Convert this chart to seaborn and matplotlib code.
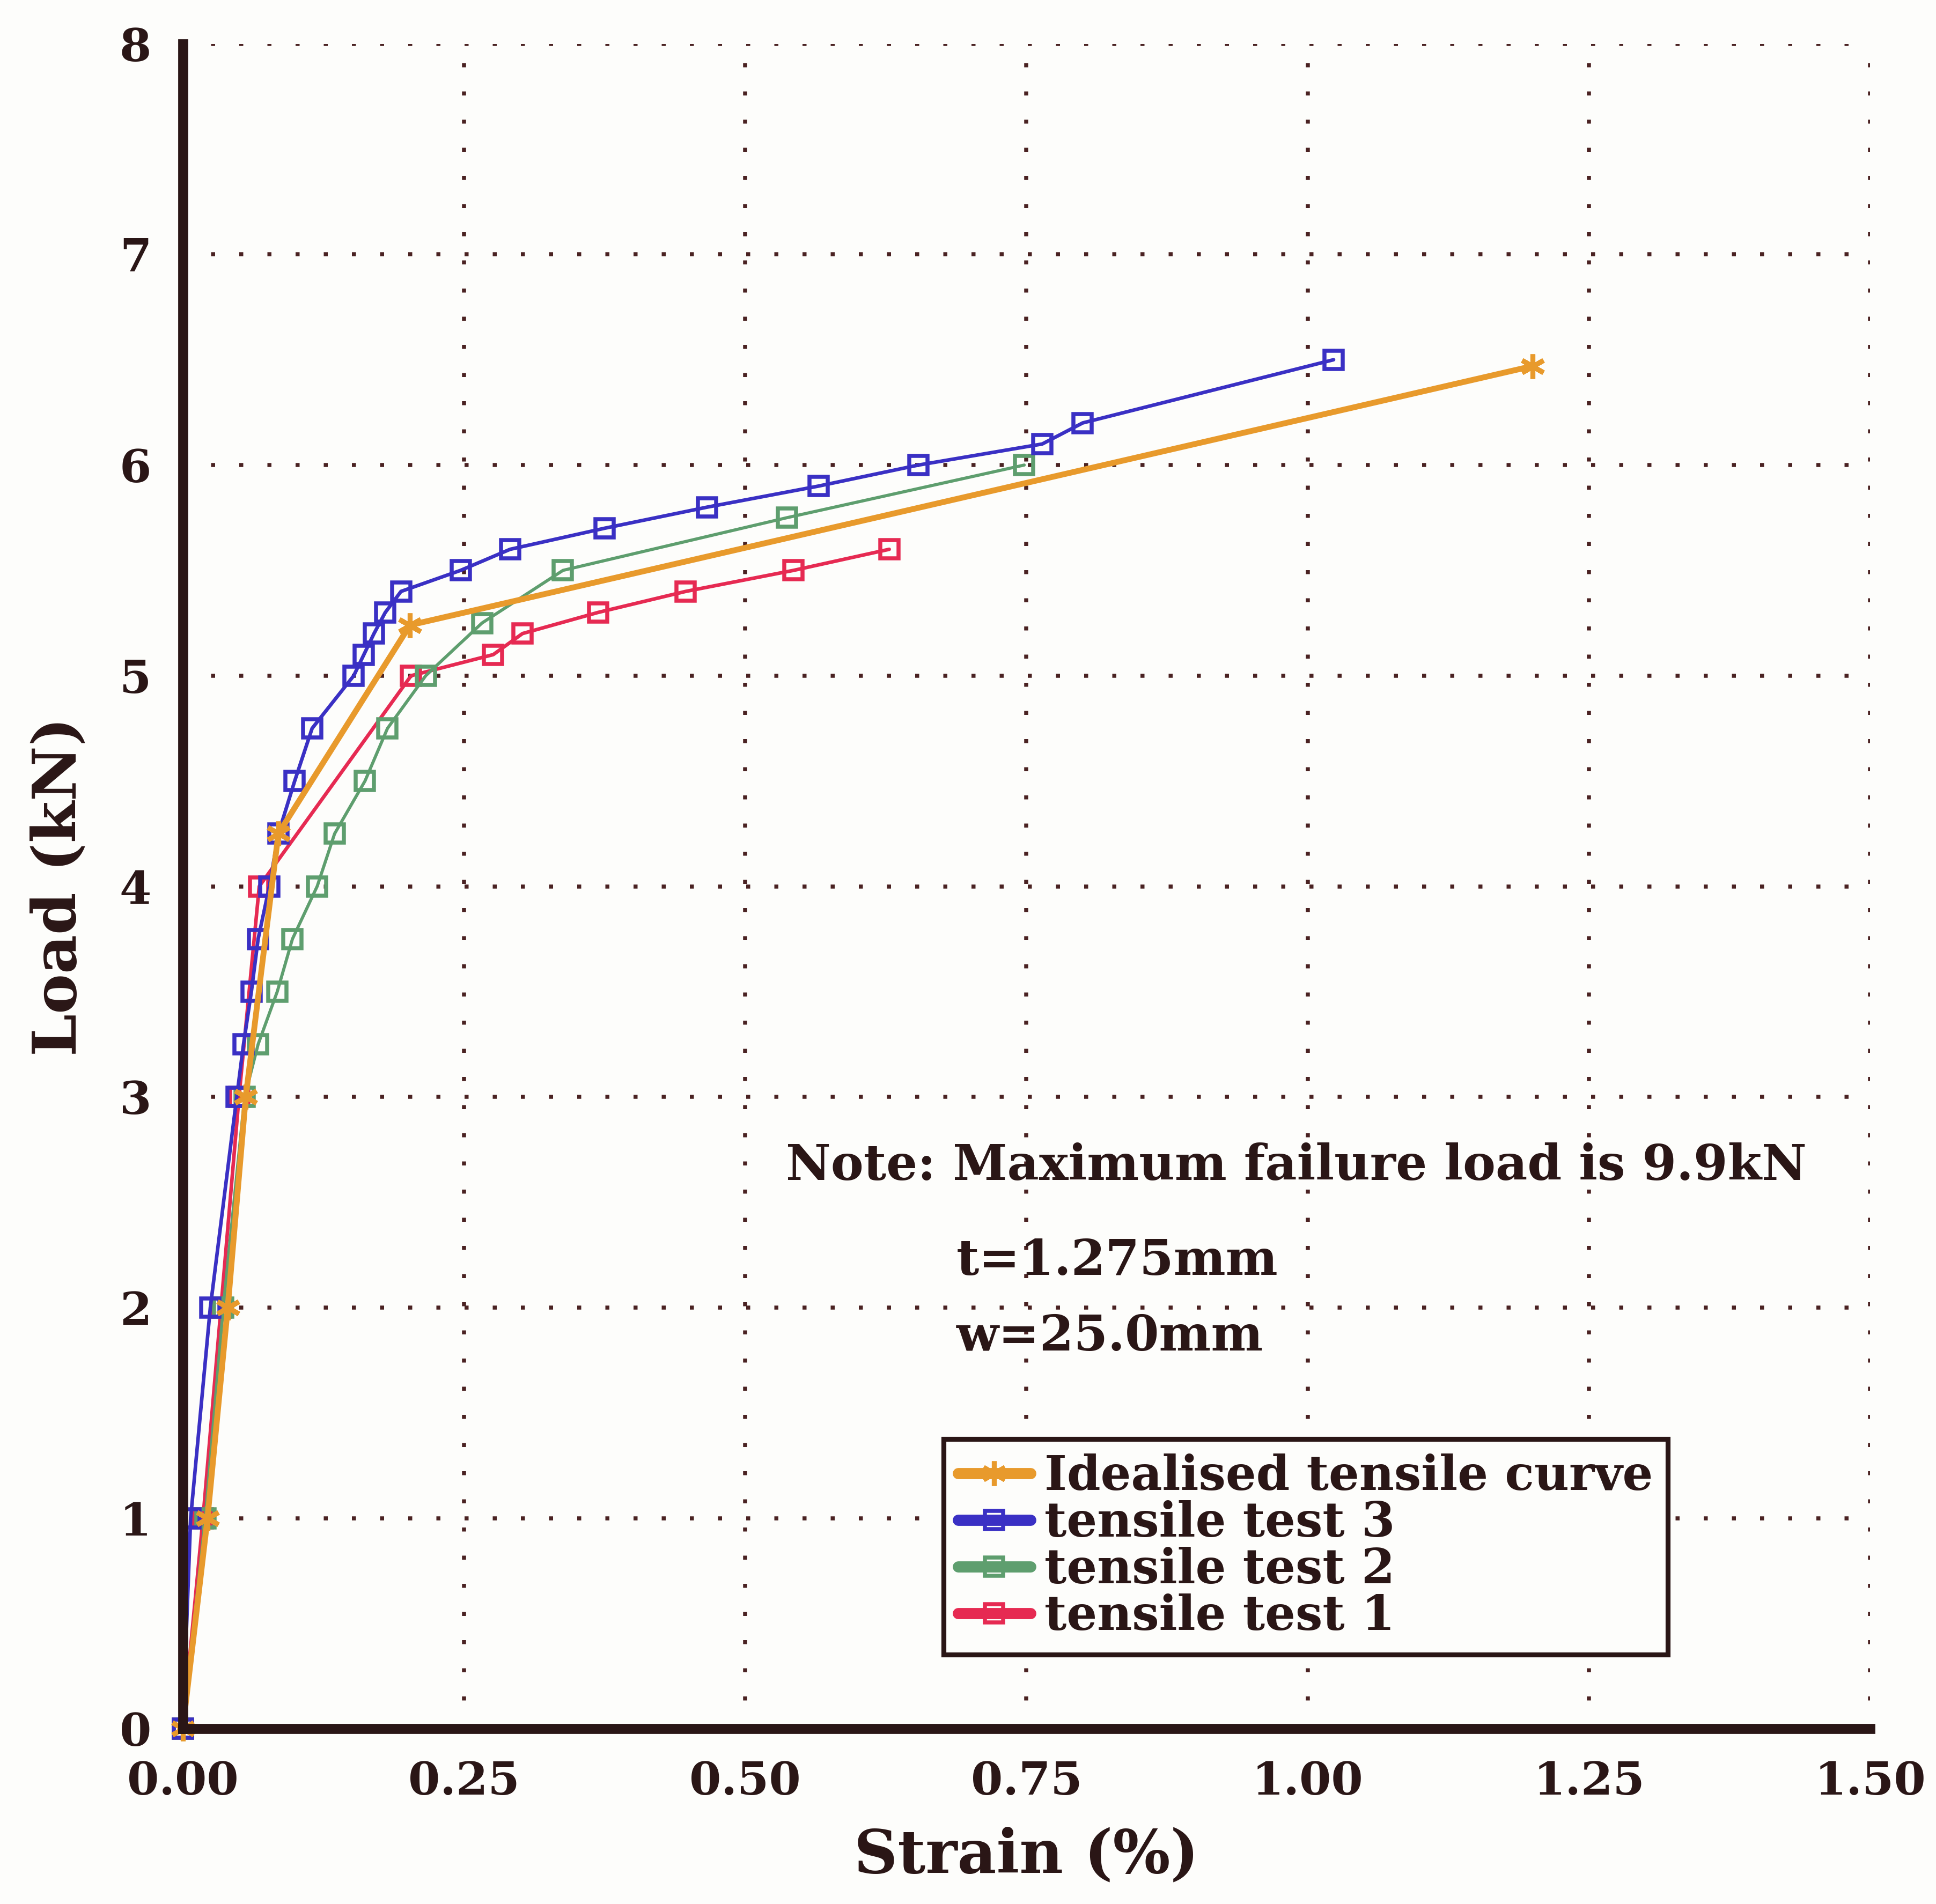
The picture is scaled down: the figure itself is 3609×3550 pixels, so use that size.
import matplotlib
matplotlib.use("Agg")
import matplotlib.pyplot as plt
import seaborn as sns
import pandas as pd

# ---------------- data ----------------
ideal_x = [0.0, 0.022, 0.040, 0.056, 0.085, 0.202, 1.200]
ideal_y = [0.0, 1.0, 2.0, 3.0, 4.25, 5.24, 6.47]

test3_x = [0.0, 0.007, 0.0245, 0.048, 0.054, 0.061, 0.067, 0.077, 0.085, 0.0995,
           0.115, 0.152, 0.161, 0.170, 0.180, 0.194, 0.247, 0.291, 0.375, 0.466,
           0.565, 0.654, 0.764, 0.800, 1.023]
test3_y = [0.0, 1.0, 2.0, 3.0, 3.25, 3.5, 3.75, 4.0, 4.25, 4.5,
           4.75, 5.0, 5.1, 5.2, 5.3, 5.4, 5.5, 5.6, 5.7, 5.8,
           5.9, 6.0, 6.1, 6.2, 6.5]

test2_x = [0.0, 0.020, 0.036, 0.055, 0.067, 0.084, 0.0975, 0.1195, 0.135, 0.162,
           0.182, 0.216, 0.266, 0.338, 0.537, 0.748]
test2_y = [0.0, 1.0, 2.0, 3.0, 3.25, 3.5, 3.75, 4.0, 4.25, 4.5,
           4.75, 5.0, 5.25, 5.5, 5.75, 6.0]

test1_x = [0.0, 0.018, 0.034, 0.050, 0.068, 0.203, 0.276, 0.302, 0.369, 0.447, 0.543, 0.628]
test1_y = [0.0, 1.0, 2.0, 3.0, 4.0, 5.0, 5.1, 5.2, 5.3, 5.4, 5.5, 5.6]

x_ticks = [0.0, 0.25, 0.5, 0.75, 1.0, 1.25, 1.5]
x_tick_labels = ["0.00", "0.25", "0.50", "0.75", "1.00", "1.25", "1.50"]
y_ticks = [0, 1, 2, 3, 4, 5, 6, 7, 8]

series_names = ["Idealised tensile curve", "tensile test 3", "tensile test 2", "tensile test 1"]
note_text = "Note: Maximum failure load is 9.9kN"
t_text = "t=1.275mm"
w_text = "w=25.0mm"

# ---------------- style ----------------
sns.set_theme(style="white")
FONT = ["DejaVu Serif", "Liberation Serif"]
plt.rcParams["font.family"] = FONT
plt.rcParams["font.weight"] = "bold"

ink = "#2a1616"
grid_col = "#4a2222"
c_ideal = "#e89a2c"
c_t3 = "#3a30c4"
c_t2 = "#5e9e6e"
c_t1 = "#e62a52"

fig = plt.figure(figsize=(3609 / 300, 3550 / 300), dpi=300)
fig.patch.set_facecolor("#fdfdfb")
ax = fig.add_axes([0.0944, 0.092, 0.8716, 0.885])
ax.set_facecolor("#fdfdfb")

common = dict(estimator=None, sort=False, ax=ax, clip_on=False)

sns.lineplot(x=test1_x, y=test1_y, color=c_t1, lw=1.6, marker="s", ms=8,
             mfc="none", mec=c_t1, mew=1.8, label=series_names[3], zorder=3, **common)
sns.lineplot(x=test2_x, y=test2_y, color=c_t2, lw=1.4, marker="s", ms=8,
             mfc="none", mec=c_t2, mew=1.8, label=series_names[2], zorder=3, **common)
sns.lineplot(x=test3_x, y=test3_y, color=c_t3, lw=1.6, marker="s", ms=8,
             mfc="none", mec=c_t3, mew=1.8, label=series_names[1], zorder=4, **common)
sns.lineplot(x=ideal_x, y=ideal_y, color=c_ideal, lw=2.6, marker=(6, 2, 0), ms=11,
             mec=c_ideal, mew=2.2, label=series_names[0], zorder=5, **common)

ax.set_xlim(0, 1.5)
ax.set_ylim(0, 8)
ax.set_xticks(x_ticks)
ax.set_xticklabels(x_tick_labels)
ax.set_yticks(y_ticks)

ax.grid(True, color=grid_col, linestyle=(0, (1, 6)), lw=1.8)
ax.set_axisbelow(True)

for s in ["top", "right"]:
    ax.spines[s].set_visible(False)
for s in ["left", "bottom"]:
    ax.spines[s].set_color(ink)
    ax.spines[s].set_linewidth(4.5)
    ax.spines[s].set_zorder(6)

ax.tick_params(axis="both", length=0, labelsize=20.5, colors=ink, pad=14)
for lab in ax.get_xticklabels() + ax.get_yticklabels():
    lab.set_fontweight("bold")

ax.set_xlabel("Strain (%)", fontsize=27, fontweight="bold", color=ink, labelpad=10)
ax.set_ylabel("Load (kN)", fontsize=27, fontweight="bold", color=ink, labelpad=14)

ax.text(0.536, 2.67, note_text, fontsize=22, fontweight="bold", color=ink,
        ha="left", va="center")
ax.text(0.6875, 2.22, t_text, fontsize=22, fontweight="bold", color=ink,
        ha="left", va="center")
ax.text(0.6875, 1.86, w_text, fontsize=22, fontweight="bold", color=ink,
        ha="left", va="center")

handles, labels = ax.get_legend_handles_labels()
order = [labels.index(n) for n in series_names]
leg = ax.legend([handles[i] for i in order], [labels[i] for i in order],
                loc="lower left", bbox_to_anchor=(0.451, 0.044),
                frameon=True, fancybox=False, framealpha=1,
                prop={"family": FONT, "weight": "bold", "size": 21.5},
                handlelength=1.5, handletextpad=0.3, labelspacing=0.0,
                borderpad=0.3, borderaxespad=0)
leg.get_frame().set_edgecolor(ink)
leg.get_frame().set_linewidth(2.2)
leg.get_frame().set_facecolor("#fdfdfb")
for ln in leg.get_lines():
    ln.set_linewidth(5)
for t in leg.get_texts():
    t.set_color(ink)

fig.savefig("out.png", dpi=300, facecolor=fig.get_facecolor())
